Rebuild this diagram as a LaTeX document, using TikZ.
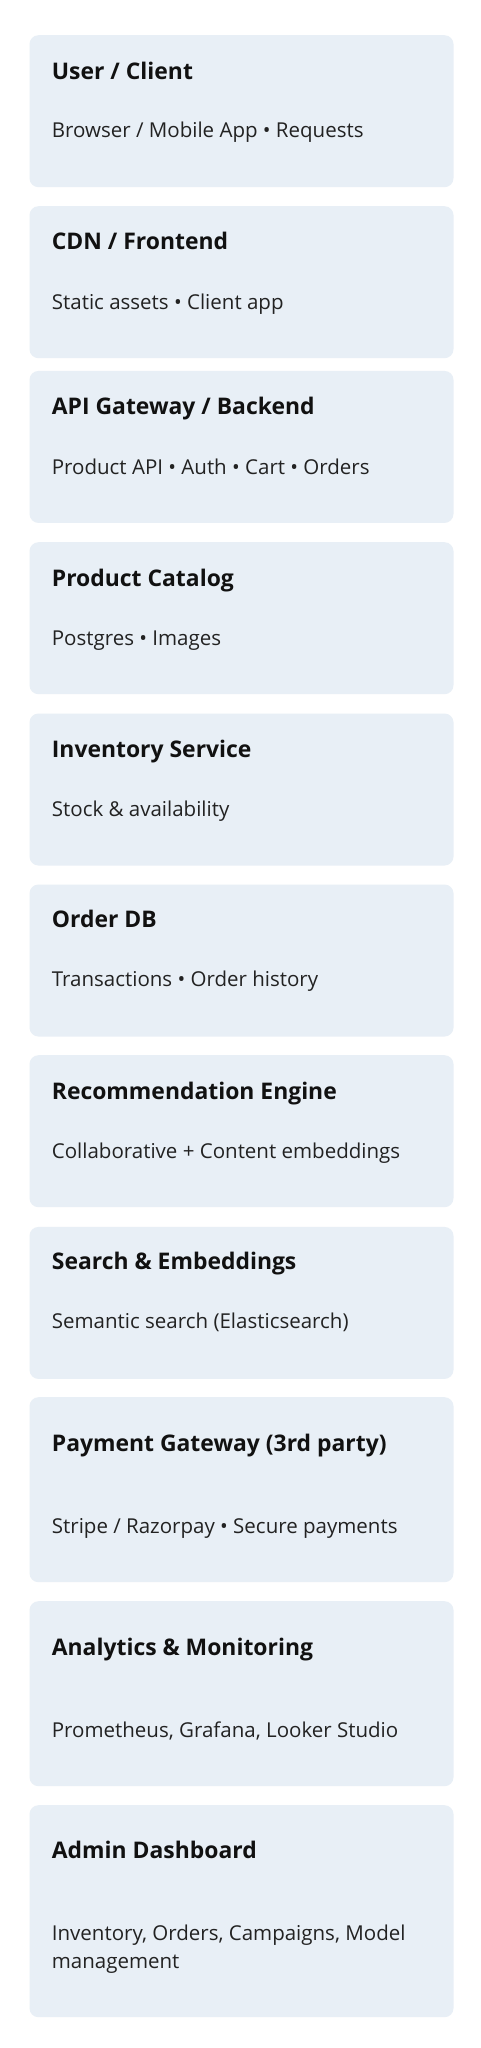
\documentclass[tikz,border=0pt]{standalone}
\usepackage{fontspec}
\setmainfont{Open Sans}[Ligatures=NoCommon]
\definecolor{cardfill}{HTML}{E8EFF6}
\definecolor{titleink}{HTML}{111111}
\definecolor{textink}{HTML}{222222}

\begin{document}
\begin{tikzpicture}[x=1pt,y=-1pt,
  card/.style={fill=cardfill, rounded corners=9pt, anchor=north west, minimum width=424pt, inner sep=0pt},
  cardtitle/.style={anchor=base west, inner sep=0pt, font=\bfseries\fontsize{22.9}{28}\selectfont, text=titleink},
  cardtext/.style={anchor=base west, inner sep=0pt, font=\fontsize{20.5}{27.3}\selectfont, text=textink, align=left}]
  \fill[white] (0,0) rectangle (481,2048);
  \useasboundingbox (0,0) rectangle (481,2048);

  \node[card, minimum height=152pt] (user) at (29.3,35) {};
  \node[cardtitle] (usertitle) at (51.7,79) {User / Client};
  \node[cardtext] (usertext) at (51.7,137.7) {Browser / Mobile App • Requests};

  \node[card, minimum height=152pt] (cdn) at (29.3,206) {};
  \node[cardtitle] (cdntitle) at (51.7,249.3) {CDN / Frontend};
  \node[cardtext] (cdntext) at (51.7,309.3) {Static assets • Client app};

  \node[card, minimum height=152pt] (api) at (29.3,370.7) {};
  \node[cardtitle] (apititle) at (51.7,414) {API Gateway / Backend};
  \node[cardtext] (apitext) at (51.7,474.3) {Product API • Auth • Cart • Orders};

  \node[card, minimum height=152pt] (catalog) at (29.3,542) {};
  \node[cardtitle] (catalogtitle) at (51.7,586) {Product Catalog};
  \node[cardtext] (catalogtext) at (51.7,645.3) {Postgres • Images};

  \node[card, minimum height=152pt] (inventory) at (29.3,713.3) {};
  \node[cardtitle] (inventorytitle) at (51.7,757.3) {Inventory Service};
  \node[cardtext] (inventorytext) at (51.7,816.7) {Stock \& availability};

  \node[card, minimum height=152pt] (orderdb) at (29.3,884.3) {};
  \node[cardtitle] (orderdbtitle) at (51.7,927.7) {Order DB};
  \node[cardtext] (orderdbtext) at (51.7,986.7) {Transactions • Order history};

  \node[card, minimum height=152pt] (reco) at (29.3,1055) {};
  \node[cardtitle] (recotitle) at (51.7,1099.3) {Recommendation Engine};
  \node[cardtext] (recotext) at (51.7,1158.3) {Collaborative + Content embeddings};

  \node[card, minimum height=152pt] (search) at (29.3,1226.7) {};
  \node[cardtitle] (searchtitle) at (51.7,1269.3) {Search \& Embeddings};
  \node[cardtext] (searchtext) at (51.7,1328.7) {Semantic search (Elasticsearch)};

  \node[card, minimum height=185pt] (payment) at (29.3,1397) {};
  \node[cardtitle] (paymenttitle) at (51.7,1451.3) {Payment Gateway (3rd party)};
  \node[cardtext] (paymenttext) at (51.7,1533) {Stripe / Razorpay • Secure payments};

  \node[card, minimum height=185pt] (analytics) at (29.3,1601) {};
  \node[cardtitle] (analyticstitle) at (51.7,1655) {Analytics \& Monitoring};
  \node[cardtext] (analyticstext) at (51.7,1737.3) {Prometheus, Grafana, Looker Studio};

  \node[card, minimum height=212pt] (admin) at (29.3,1805) {};
  \node[cardtitle] (admintitle) at (51.7,1858.3) {Admin Dashboard};
  % base anchor sits on the last line
  \node[cardtext] (admintext) at (51.7,1968) {Inventory, Orders, Campaigns, Model\\management};
\end{tikzpicture}
\end{document}
